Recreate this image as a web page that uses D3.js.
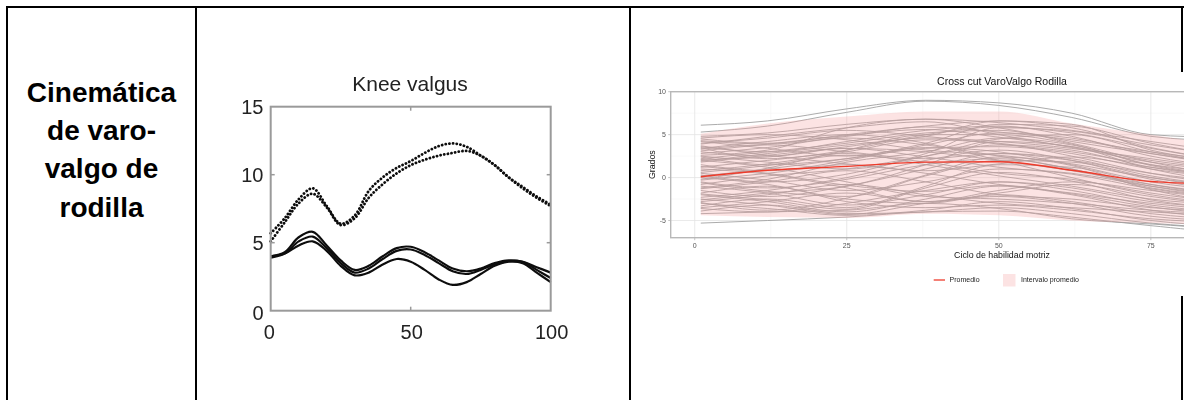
<!DOCTYPE html>
<html>
<head>
<meta charset="utf-8">
<script src="https://cdn.jsdelivr.net/npm/d3@7"></script>
<style>
  body { margin: 0; background: #fff; }
  svg { display: block; }
</style>
</head>
<body>
<svg id="chart" width="1184" height="400"></svg>
<script>
// ---------------- data ----------------
// first table cell
const cellLines = ["Cinemática", "de varo-", "valgo de", "rodilla"];

// knee valgus panel (degrees over 0-100 % of the cycle)
const kneeTitle = "Knee valgus";
const kneeX = [0, 5, 10, 15, 20, 25, 30, 35, 40, 45, 50, 55, 60, 65, 70, 75, 80, 85, 90, 95, 100];
const kneeDottedA = [5.7, 6.8, 8.2, 9.0, 7.7, 6.4, 7.0, 8.8, 9.8, 10.5, 11.0, 11.6, 12.1, 12.3, 12.05, 11.4, 10.7, 9.8, 9.1, 8.4, 7.8];
const kneeDottedB = [5.1, 6.5, 7.9, 8.6, 7.6, 6.3, 6.8, 8.3, 9.3, 10.1, 10.7, 11.1, 11.4, 11.6, 11.75, 11.4, 10.7, 9.8, 9.0, 8.3, 7.7];
const kneeSolidA = [4.0, 4.3, 5.4, 5.8, 4.8, 3.7, 3.0, 3.3, 4.0, 4.6, 4.7, 4.3, 3.7, 3.1, 2.9, 3.1, 3.5, 3.7, 3.6, 3.2, 2.8];
const kneeSolidB = [3.9, 4.2, 5.1, 5.45, 4.6, 3.5, 2.8, 3.1, 3.8, 4.4, 4.5, 4.1, 3.5, 2.9, 2.7, 3.0, 3.4, 3.65, 3.6, 3.0, 2.4];
const kneeSolidC = [4.0, 4.2, 4.8, 5.1, 4.4, 3.3, 2.6, 2.8, 3.4, 3.8, 3.6, 3.0, 2.3, 1.9, 2.1, 2.7, 3.3, 3.6, 3.5, 2.8, 2.1];
const kneeYTicks = [0, 5, 10, 15];
const kneeXTicks = [0, 50, 100];

// cross-cut panel
const crossTitle = "Cross cut VaroValgo Rodilla";
const crossXLabel = "Ciclo de habilidad motriz";
const crossYLabel = "Grados";
const cycleX = [1, 12, 25, 38, 50, 62, 75, 88, 100];
const trials = [
  [6.1, 6.6, 8.0, 9.0, 8.7, 7.5, 5.0, 4.6, 4.0],
  [5.3, 6.0, 7.6, 8.9, 8.4, 7.0, 4.8, 4.2, 3.6],
  [-5.3, -5.0, -4.6, -4.0, -3.9, -4.6, -5.6, -6.3, -6.0],
  [4.8, 5.2, 6.2, 6.8, 6.4, 5.5, 4.2, 3.0, 2.5],
  [4.5, 4.0, 5.0, 6.0, 6.6, 5.8, 3.5, 2.0, 1.5],
  [4.0, 4.6, 5.5, 4.8, 3.9, 3.0, 1.5, 0.5, 0.0],
  [3.6, 3.0, 4.2, 5.5, 6.0, 4.8, 2.5, 1.2, 0.8],
  [3.3, 3.8, 3.0, 2.2, 2.8, 2.0, 0.5, -0.5, -1.0],
  [3.0, 2.5, 3.6, 4.6, 4.2, 3.4, 2.2, 1.0, 0.5],
  [2.8, 3.5, 4.6, 3.8, 2.5, 1.0, -1.0, -2.2, -2.5],
  [2.5, 1.8, 1.0, 2.5, 4.5, 5.0, 3.0, 1.5, 1.0],
  [2.2, 3.0, 4.0, 5.2, 5.5, 4.0, 1.8, 0.2, -0.3],
  [2.0, 1.2, -0.5, -2.2, -2.5, -3.0, -3.8, -4.2, -4.0],
  [1.8, 2.6, 3.4, 3.0, 2.0, 0.8, -0.8, -1.8, -2.0],
  [1.5, 0.8, 2.0, 3.8, 5.2, 4.6, 2.8, 1.5, 1.0],
  [1.2, 2.0, 2.8, 1.5, 0.2, -1.0, -2.5, -3.2, -3.5],
  [1.0, 0.4, -1.2, -2.8, -1.5, -0.5, -1.5, -2.5, -2.8],
  [0.8, 1.6, 3.0, 4.4, 4.0, 2.5, 0.5, -0.8, -1.2],
  [0.5, -0.3, -1.5, -0.5, 1.0, 0.5, -1.0, -2.0, -2.2],
  [0.2, 1.0, 2.2, 3.5, 3.0, 1.5, -0.5, -1.5, -1.8],
  [0.0, -0.8, -2.5, -3.0, -2.0, -2.8, -4.2, -4.8, -4.5],
  [-0.3, 0.5, 1.5, 0.5, -0.8, -1.8, -3.0, -3.8, -4.0],
  [-0.5, -1.2, -0.2, 1.5, 2.2, 1.0, -1.2, -2.2, -2.5],
  [-0.8, 0.2, 1.0, 2.5, 3.8, 3.2, 1.2, 0.0, -0.5],
  [-1.0, -1.8, -3.2, -2.0, -0.5, -1.2, -2.8, -3.5, -3.6],
  [-1.3, -0.5, 0.8, -0.5, -2.0, -2.5, -3.5, -4.0, -4.2],
  [-1.5, -2.2, -1.0, 1.0, 2.8, 2.2, 0.2, -1.0, -1.5],
  [-1.8, -1.0, -2.8, -3.5, -3.2, -3.8, -4.8, -5.2, -5.0],
  [-2.0, -2.8, -4.0, -2.5, -1.0, -2.0, -3.8, -4.6, -4.5],
  [-2.3, -1.5, 0.0, 2.0, 3.2, 2.0, -0.2, -1.5, -2.0],
  [-2.5, -3.2, -4.3, -3.0, -2.2, -3.0, -4.5, -5.0, -4.8],
  [-2.8, -2.0, -0.8, -2.0, -3.0, -3.5, -4.0, -4.4, -4.4],
  [-3.0, -3.6, -4.4, -3.8, -2.8, -3.6, -5.0, -5.6, -5.5],
  [-3.3, -2.5, -3.5, -1.0, 1.5, 1.2, -0.8, -2.0, -2.5],
  [-3.6, -4.0, -3.0, -1.5, -0.5, -1.5, -3.2, -4.0, -4.2],
  [-3.9, -3.2, -4.2, -4.0, -3.5, -4.2, -5.3, -5.8, -5.6],
  [-4.2, -4.0, -3.8, -3.0, -3.6, -4.8, -5.4, -5.9, -5.7],
  [3.9, 4.8, 5.8, 6.5, 5.0, 3.5, 1.8, 0.8, 0.3],
  [4.2, 3.4, 2.5, 4.0, 6.2, 6.0, 4.0, 2.5, 2.0],
  [3.4, 4.2, 5.0, 4.0, 2.0, 0.0, -2.0, -3.0, -3.2],
  [2.6, 3.2, 5.8, 6.8, 5.8, 4.2, 2.8, 1.6, 1.0],
  [1.9, 2.8, 3.8, 4.8, 6.6, 6.2, 3.2, 1.8, 1.2],
  [0.6, 1.4, 2.6, 1.8, 0.5, -0.2, -1.8, -2.8, -3.0],
  [-0.6, -1.6, -2.2, 0.2, 2.0, 1.8, 0.0, -1.2, -1.5],
  [-1.2, -0.2, 1.8, 3.0, 4.6, 3.8, 1.5, 0.2, -0.2],
  [-2.6, -1.8, -1.0, 1.5, 4.2, 3.6, 1.0, -0.5, -1.0],
  [4.6, 5.0, 4.4, 3.2, 2.6, 1.6, 0.0, -1.0, -1.5],
  [2.4, 1.5, 2.2, 3.4, 3.6, 2.8, 1.0, 0.0, -0.4],
  [-3.5, -2.8, -1.8, -2.8, -1.8, -0.8, -2.2, -3.2, -3.4],
  [0.3, -0.5, 0.4, 2.8, 5.8, 5.4, 3.8, 2.6, 2.0],
  [3.7, 2.6, 1.6, 0.8, 1.6, 2.4, 1.2, 0.2, -0.2],
  [4.3, 3.9, 4.8, 5.9, 5.3, 4.4, 3.0, 1.9, 1.4],
  [3.1, 3.9, 4.9, 5.6, 4.7, 3.6, 2.0, 0.9, 0.4],
  [-0.2, 1.1, 3.2, 5.0, 5.0, 3.9, 1.4, 0.1, -0.4],
  [-1.9, -2.6, -3.7, -1.2, 0.6, -0.4, -2.6, -3.6, -3.9],
  [1.3, 0.5, -0.9, -1.6, -0.9, -1.9, -3.4, -4.3, -4.4],
  [-2.9, -3.8, -2.4, 0.3, 2.4, 1.4, -1.4, -2.9, -3.2],
  [3.5, 2.2, 3.2, 5.0, 5.9, 5.2, 3.4, 2.0, 1.6],
  [2.1, 2.4, 3.4, 2.4, 1.2, 0.4, -1.3, -2.4, -2.7]
];
const bandUpper = [5.1, 6.3, 7.1, 7.7, 7.7, 6.3, 5.0, 3.8, 3.5];
const bandLower = [-4.4, -4.6, -4.7, -4.2, -4.4, -5.0, -5.3, -5.5, -5.5];
const meanLine = [0.1, 0.85, 1.3, 1.8, 1.85, 0.85, -0.45, -0.8, -0.9];
const cycleTicks = [0, 25, 50, 75];
const cycleMinor = [12.5, 37.5, 62.5, 87.5];
const gradosTicks = [-5, 0, 5, 10];
const gradosMinor = [-2.5, 2.5, 7.5];
const legendLabels = ["Promedio", "Intervalo promedio"];

// ---------------- drawing ----------------
const svg = d3.select("#chart");
const defs = svg.append("defs");
defs.append("filter").attr("id", "softA").attr("x", "-5%").attr("y", "-5%").attr("width", "110%").attr("height", "110%")
  .append("feGaussianBlur").attr("stdDeviation", 0.6);
defs.append("filter").attr("id", "softB").attr("x", "-5%").attr("y", "-5%").attr("width", "110%").attr("height", "110%")
  .append("feGaussianBlur").attr("stdDeviation", 0.35);

svg.append("rect").attr("width", 1184).attr("height", 400).attr("fill", "#fff");

// table grid
const grid = svg.append("g").attr("stroke", "#000").attr("stroke-width", 2);
grid.append("line").attr("x1", 6).attr("x2", 1184).attr("y1", 7).attr("y2", 7);
[7, 196, 630, 1182].forEach(x => {
  grid.append("line").attr("x1", x).attr("x2", x).attr("y1", 6).attr("y2", 400);
});

// first cell text
svg.append("g").selectAll("text").data(cellLines).join("text")
  .attr("x", 101.5)
  .attr("y", (d, i) => 101.7 + i * 38.3)
  .attr("text-anchor", "middle")
  .attr("font-family", "Liberation Sans, Arial, sans-serif")
  .attr("font-weight", "bold")
  .attr("font-size", 28)
  .attr("fill", "#000")
  .text(d => d);

// ---- knee valgus panel ----
const gK = svg.append("g").attr("filter", "url(#softA)");
const xK = d3.scaleLinear().domain([0, 100]).range([270.7, 550.7]);
const yK = d3.scaleLinear().domain([0, 15]).range([310.7, 106.7]);
const fontK = "Liberation Sans, Arial, sans-serif";

gK.append("text").attr("x", 410).attr("y", 91).attr("text-anchor", "middle")
  .attr("font-family", fontK).attr("font-size", 21).attr("fill", "#222").text(kneeTitle);

const kneeLine = d3.line().x((d, i) => xK(kneeX[i])).y(d => yK(d)).curve(d3.curveCatmullRom.alpha(0.5));

[kneeDottedA, kneeDottedB].forEach(s => {
  gK.append("path").attr("d", kneeLine(s)).attr("fill", "none")
    .attr("stroke", "#111").attr("stroke-width", 2.8)
    .attr("stroke-linecap", "round").attr("stroke-dasharray", "0.1,3.6");
});
[kneeSolidA, kneeSolidB, kneeSolidC].forEach(s => {
  gK.append("path").attr("d", kneeLine(s)).attr("fill", "none")
    .attr("stroke", "#111").attr("stroke-width", 2.2);
});

// box and inward ticks
gK.append("rect").attr("x", xK(0)).attr("y", yK(15))
  .attr("width", xK(100) - xK(0)).attr("height", yK(0) - yK(15))
  .attr("fill", "none").attr("stroke", "#9a9a9a").attr("stroke-width", 2);
const tk = gK.append("g").attr("stroke", "#9a9a9a").attr("stroke-width", 1.5);
[50].forEach(v => {
  tk.append("line").attr("x1", xK(v)).attr("x2", xK(v)).attr("y1", yK(0)).attr("y2", yK(0) - 4);
  tk.append("line").attr("x1", xK(v)).attr("x2", xK(v)).attr("y1", yK(15)).attr("y2", yK(15) + 4);
});
[5, 10].forEach(v => {
  tk.append("line").attr("x1", xK(0)).attr("x2", xK(0) + 4).attr("y1", yK(v)).attr("y2", yK(v));
  tk.append("line").attr("x1", xK(100)).attr("x2", xK(100) - 4).attr("y1", yK(v)).attr("y2", yK(v));
});

gK.append("g").selectAll("text").data(kneeYTicks).join("text")
  .attr("x", 263.5)
  .attr("y", d => yK(d) + (d === 0 ? 2.5 : 0))
  .attr("dy", "0.36em")
  .attr("text-anchor", "end")
  .attr("font-family", fontK).attr("font-size", 20).attr("fill", "#222")
  .text(d => d);
gK.append("g").selectAll("text").data(kneeXTicks).join("text")
  .attr("x", d => xK(d) + (d === 0 ? -1.5 : 1))
  .attr("y", 331.5)
  .attr("dy", "0.36em")
  .attr("text-anchor", "middle")
  .attr("font-family", fontK).attr("font-size", 20).attr("fill", "#222")
  .text(d => d);

// ---- cross-cut panel ----
svg.append("rect").attr("x", 636).attr("y", 72).attr("width", 548).attr("height", 224).attr("fill", "#fff");
const gC = svg.append("g").attr("filter", "url(#softB)");
const fontC = "Liberation Sans, Arial, sans-serif";
const xC = d3.scaleLinear().domain([-3.95, 104.95]).range([670.7, 1333]);
const yC = d3.scaleLinear().domain([-7, 10]).range([237.7, 91.7]);

// grid lines
const gridC = gC.append("g");
cycleMinor.forEach(v => gridC.append("line").attr("x1", xC(v)).attr("x2", xC(v)).attr("y1", yC(-7)).attr("y2", yC(10))
  .attr("stroke", "#f2f2f2").attr("stroke-width", 0.5));
gradosMinor.forEach(v => gridC.append("line").attr("x1", xC(-3.95)).attr("x2", xC(104.95)).attr("y1", yC(v)).attr("y2", yC(v))
  .attr("stroke", "#f2f2f2").attr("stroke-width", 0.5));
cycleTicks.forEach(v => gridC.append("line").attr("x1", xC(v)).attr("x2", xC(v)).attr("y1", yC(-7)).attr("y2", yC(10))
  .attr("stroke", "#e3e3e3").attr("stroke-width", 0.8));
gradosTicks.forEach(v => gridC.append("line").attr("x1", xC(-3.95)).attr("x2", xC(104.95)).attr("y1", yC(v)).attr("y2", yC(v))
  .attr("stroke", "#e3e3e3").attr("stroke-width", 0.8));

const cycleLine = d3.line().x((d, i) => xC(cycleX[i])).y(d => yC(d)).curve(d3.curveMonotoneX);

// individual trials
gC.append("g").selectAll("path").data(trials).join("path")
  .attr("d", d => cycleLine(d))
  .attr("fill", "none").attr("stroke", "#9c9c9c").attr("stroke-width", 0.85);

// interval band
const band = d3.area()
  .x((d, i) => xC(cycleX[i]))
  .y0((d, i) => yC(bandLower[i]))
  .y1(d => yC(d))
  .curve(d3.curveMonotoneX);
gC.append("path").attr("d", band(bandUpper)).attr("fill", "#f4a3a3").attr("fill-opacity", 0.3);

// mean line
gC.append("path").attr("d", cycleLine(meanLine)).attr("fill", "none")
  .attr("stroke", "#ee3b2c").attr("stroke-width", 1.4);

// panel border
gC.append("rect").attr("x", xC(-3.95)).attr("y", yC(10))
  .attr("width", xC(104.95) - xC(-3.95)).attr("height", yC(-7) - yC(10))
  .attr("fill", "none").attr("stroke", "#b8b8b8").attr("stroke-width", 1.4);

// axis ticks and labels
const axC = gC.append("g").attr("stroke", "#b8b8b8").attr("stroke-width", 0.8);
cycleTicks.forEach(v => axC.append("line").attr("x1", xC(v)).attr("x2", xC(v)).attr("y1", yC(-7)).attr("y2", yC(-7) + 2.5));
gradosTicks.forEach(v => axC.append("line").attr("x1", xC(-3.95)).attr("x2", xC(-3.95) - 2.5).attr("y1", yC(v)).attr("y2", yC(v)));

gC.append("g").selectAll("text").data(cycleTicks).join("text")
  .attr("x", d => xC(d)).attr("y", 248)
  .attr("text-anchor", "middle")
  .attr("font-family", fontC).attr("font-size", 7).attr("fill", "#555")
  .text(d => d);
gC.append("g").selectAll("text").data(gradosTicks).join("text")
  .attr("x", 666).attr("y", d => yC(d)).attr("dy", "0.35em")
  .attr("text-anchor", "end")
  .attr("font-family", fontC).attr("font-size", 7).attr("fill", "#555")
  .text(d => d);

gC.append("text").attr("x", 1002).attr("y", 85).attr("text-anchor", "middle")
  .attr("font-family", fontC).attr("font-size", 10.5).attr("fill", "#111").text(crossTitle);
gC.append("text").attr("x", 1002).attr("y", 258).attr("text-anchor", "middle")
  .attr("font-family", fontC).attr("font-size", 8.8).attr("fill", "#111").text(crossXLabel);
gC.append("text").attr("transform", "translate(655,164.7) rotate(-90)").attr("text-anchor", "middle")
  .attr("font-family", fontC).attr("font-size", 8.8).attr("fill", "#111").text(crossYLabel);

// legend
const lg = gC.append("g");
lg.append("line").attr("x1", 933.7).attr("x2", 945).attr("y1", 280).attr("y2", 280)
  .attr("stroke", "#ee3b2c").attr("stroke-width", 1.3);
lg.append("text").attr("x", 949.6).attr("y", 280).attr("dy", "0.35em")
  .attr("font-family", fontC).attr("font-size", 7).attr("fill", "#222").text(legendLabels[0]);
lg.append("rect").attr("x", 1003).attr("y", 274).attr("width", 12.5).attr("height", 12.5)
  .attr("fill", "#f4a3a3").attr("fill-opacity", 0.3);
lg.append("text").attr("x", 1021).attr("y", 280).attr("dy", "0.35em")
  .attr("font-family", fontC).attr("font-size", 7).attr("fill", "#222").text(legendLabels[1]);
</script>
</body>
</html>
